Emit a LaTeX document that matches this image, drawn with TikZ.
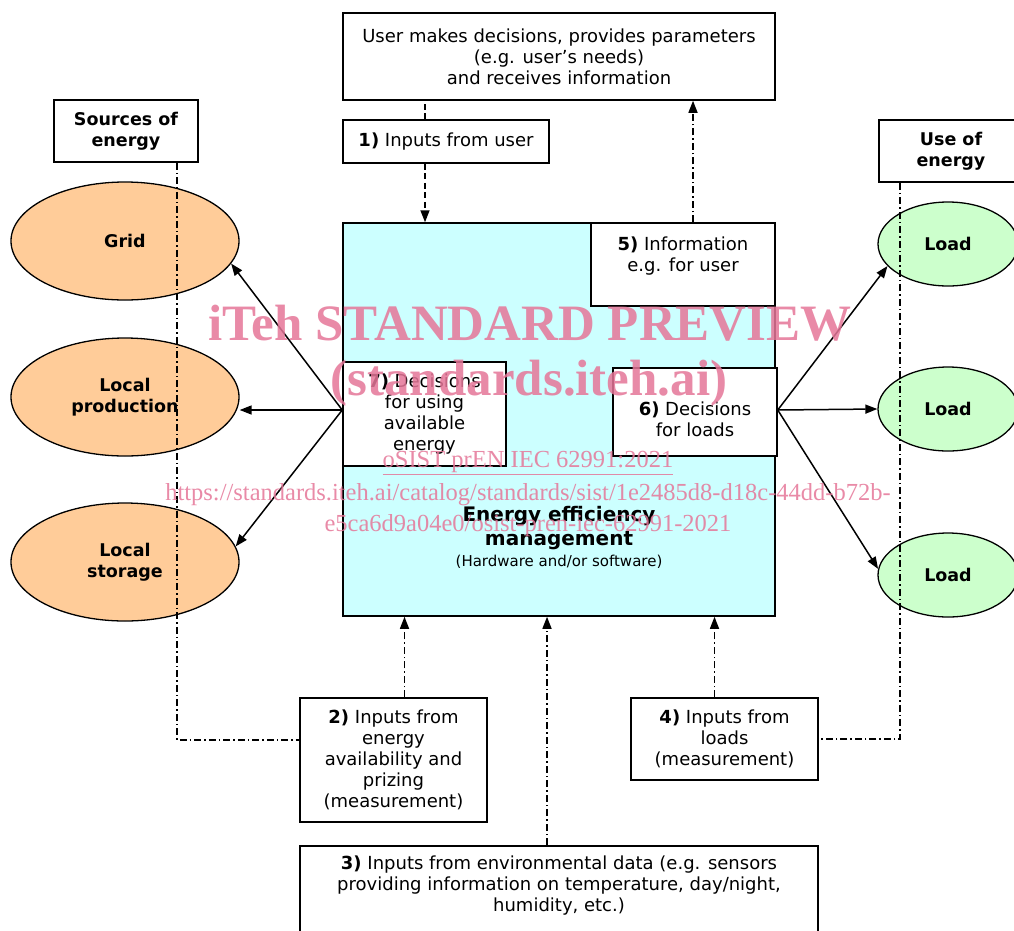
\documentclass[tikz,border=0pt]{standalone}
\usepackage{fontspec}
\setmainfont{DejaVu Sans}
\newfontfamily\wmfont{Liberation Serif}
\usetikzlibrary{shapes.geometric,arrows.meta}
\definecolor{eemcyan}{RGB}{204,255,255}
\definecolor{srcorange}{RGB}{255,204,153}
\definecolor{loadgreen}{RGB}{204,255,204}
\definecolor{wmpink}{RGB}{229,118,152}
\tikzset{
  box/.style={draw, line width=1.5pt, fill=white, align=center, inner sep=0pt,
    font=\fontsize{18}{21}\selectfont},
  boldbox/.style={box, font=\bfseries\fontsize{17.5}{21}\selectfont},
  srcell/.style={ellipse, draw, line width=1.3pt, fill=srcorange, minimum width=228pt,
    minimum height=118pt, align=center, inner sep=0pt, font=\bfseries\fontsize{17.5}{21}\selectfont},
  loadell/.style={ellipse, draw, line width=1.3pt, fill=loadgreen, minimum width=140pt,
    minimum height=84pt, inner sep=0pt, font=\bfseries\fontsize{17.5}{21}\selectfont},
  tipped/.style={-{Triangle[length=12pt,width=9pt]}},
  flow/.style={line width=1.5pt, tipped},
  dashflow/.style={line width=1.5pt, dash pattern=on 6pt off 3.5pt},
  dotflow/.style={line width=1.4pt, dash pattern=on 7pt off 3pt on 1.5pt off 3pt},
  wmark/.style={text=wmpink, text opacity=0.85, align=center, inner sep=0pt}
}
\begin{document}
\begin{tikzpicture}[x=1pt,y=-1pt]
\useasboundingbox (0,0) rectangle (1014,930);
% user and inputs
\node[box, minimum width=432pt, minimum height=87pt] (user) at (559,56.5)
  {User makes decisions, provides parameters\\(e.g. user's needs)\\and receives information};
\node[box, minimum width=206pt, minimum height=43pt] (in1) at (446,141.5) {\textbf{1)} Inputs from user};
% energy efficiency management
\node[box, fill=eemcyan, minimum width=432pt, minimum height=393pt] (eem) at (559,419.5) {};
\node[align=center, font=\bfseries\fontsize{20}{24}\selectfont] (eemtitle) at (559,528) {Energy efficiency\\management};
\node[font=\fontsize{15}{18}\selectfont] (eemsub) at (559,562) {(Hardware and/or software)};
\node[box, minimum width=184pt, minimum height=83pt] (info) at (683,264.5) {\textbf{5)} Information\\e.g. for user\\~};
\node[box, minimum width=163pt, minimum height=104pt] (dec7) at (424.5,414) {\textbf{7)} Decisions\\for using\\available\\energy};
\node[box, minimum width=164pt, minimum height=88pt] (dec6) at (695,412) {};
\node[align=center, font=\fontsize{18}{21}\selectfont] (dec6text) at (695,419) {\textbf{6)} Decisions\\for loads};
% sources and loads
\node[boldbox, minimum width=144pt, minimum height=62pt] (src) at (126,131) {Sources of\\energy};
\node[boldbox, minimum width=144pt, minimum height=62pt] (use) at (951,151) {Use of\\energy};
\node[srcell] (grid) at (125,241) {Grid};
\node[srcell] (prod) at (125,397) {Local\\production};
\node[srcell] (stor) at (125,562) {Local\\storage};
\node[loadell] (load1) at (948,244) {Load};
\node[loadell] (load2) at (948,409) {Load};
\node[loadell] (load3) at (948,575) {Load};
% measurement inputs
\node[box, minimum width=187pt, minimum height=124pt] (in2) at (393.5,760)
  {\textbf{2)} Inputs from\\energy\\availability and\\prizing\\(measurement)};
\node[box, minimum width=187pt, minimum height=82pt] (in4) at (724.5,739)
  {\textbf{4)} Inputs from\\loads\\(measurement)};
\node[box, minimum width=518pt, minimum height=120pt, anchor=north] (in3) at (559,845) {};
\node[align=center, anchor=north, font=\fontsize{18}{21}\selectfont] (in3text) at ([yshift=-7pt]in3.north)
  {\textbf{3)} Inputs from environmental data (e.g. sensors\\providing information on temperature, day/night,\\humidity, etc.)};
% connectors
\draw[dashflow] ([xshift=-21pt]in1.north) -- ([xshift=-21pt]in1.north |- user.south);
\draw[dashflow, tipped] ([xshift=-21pt]in1.south) -- ([xshift=-21pt]in1.south |- eem.north);
\draw[dotflow, tipped] ([xshift=10pt]info.north) -- ([xshift=10pt]info.north |- user.south);
\coordinate (dec7out) at ([yshift=4pt]dec7.west);
\draw[flow] (dec7out) -- (grid.-12);
\draw[flow] (dec7out) -- (dec7out -| prod.east);
\draw[flow] (dec7out) -- (stor.8);
\coordinate (dec6out) at ([yshift=2pt]dec6.east);
\draw[flow] (dec6out) -- (load1.200);
\draw[flow] (dec6out) -- (load2.west);
\draw[flow] (dec6out) -- (load3.175);
\draw[dotflow] ([xshift=51pt]src.south) |- ([yshift=20pt]in2.west);
\draw[dotflow] ([xshift=-51pt]use.south) |- (in4.east);
\draw[dotflow, tipped] ([xshift=11pt]in2.north) -- ([xshift=11pt]in2.north |- eem.south);
\draw[dotflow, tipped] ([xshift=-12pt]in3.north) -- ([xshift=-12pt]in3.north |- eem.south);
\draw[dotflow, tipped] ([xshift=-10pt]in4.north) -- ([xshift=-10pt]in4.north |- eem.south);
% watermark
\node[wmark, font=\wmfont\bfseries\fontsize{51}{51}\selectfont] (wm1) at (530,323) {iTeh STANDARD PREVIEW};
\node[wmark, font=\wmfont\bfseries\fontsize{51}{51}\selectfont] (wm2) at (529,383) {(standards.iteh.ai)};
\node[wmark, font=\wmfont\fontsize{24.5}{30}\selectfont] (wm3) at (528,463) {\underline{oSIST prEN IEC 62991:2021}};
\node[wmark, font=\wmfont\fontsize{24.5}{30}\selectfont] (wm4) at (528,495) {https://standards.iteh.ai/catalog/standards/sist/1e2485d8-d18c-44dd-b72b-};
\node[wmark, font=\wmfont\fontsize{24.5}{30}\selectfont] (wm5) at (528,526) {e5ca6d9a04e0/osist-pren-iec-62991-2021};
\end{tikzpicture}
\end{document}
